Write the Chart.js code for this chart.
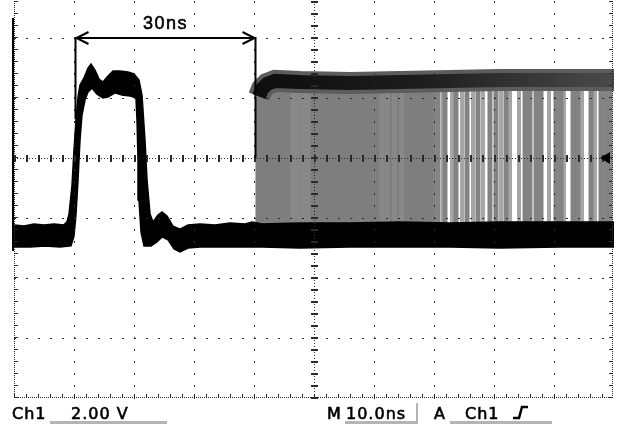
<!DOCTYPE html>
<html>
<head>
<meta charset="utf-8">
<script src="https://cdn.jsdelivr.net/npm/chart.js@4.4.1/dist/chart.umd.min.js"></script>
<style>
html, body { margin: 0; padding: 0; background: #fff; }
#scope { display: block; }
</style>
</head>
<body>
<canvas id="scope" width="617" height="424"></canvas>
<script>
// scope capture: 10 ns/div, 2 V/div. time in ns, level in V (0 V = centre line)

// thick persistent trace (the pulse + ringing + baseline), top edge then bottom edge
const pulseUpper = [
  [0, -2.23], [1.67, -2.27], [3.33, -2.2], [5, -2.23], [6.67, -2.2], [8.33, -2.23],
  [8.83, -2.13], [9.17, -1.87], [9.67, -0.9], [10, 0.27], [10.33, 1.27], [10.67, 2.03],
  [11, 2.43], [11.67, 2.67], [12.33, 3.0], [12.83, 3.13], [13.5, 2.93], [14.17, 2.63],
  [14.83, 2.53], [15.67, 2.73], [16.5, 2.9], [17.67, 2.9], [19, 2.87], [20, 2.8],
  [20.83, 2.6], [21.33, 2.1], [21.83, 0.6], [22.17, -0.73], [22.67, -1.87], [23.17, -2.13],
  [24, -1.9], [24.67, -1.8], [25.5, -1.93], [26.5, -2.27], [27.67, -2.37], [29, -2.23],
  [31, -2.2], [33.5, -2.23], [36, -2.17], [38.5, -2.2], [39.67, -2.13], [41.33, -2.2],
  [47.67, -2.17], [56, -2.17], [64.33, -2.13], [72.67, -2.17], [81, -2.13], [91, -2.13], [100, -2.13]
];
const pulseLower = [
  [100, -2.97], [91, -2.97], [81, -3.0], [72.67, -2.97], [64.33, -2.97], [56, -2.97],
  [47.67, -3.0], [41.33, -2.97], [36, -2.97], [31, -2.97], [29, -3.0], [27.67, -3.13],
  [26.67, -3.03], [25.67, -2.73], [24.67, -2.63], [23.83, -2.8], [22.83, -2.93], [21.67, -2.93],
  [21.17, -2.47], [20.83, -1.4], [20.67, -0.07], [20.5, 1.27], [20.33, 2.0], [19.33, 2.07],
  [18, 2.1], [16.83, 2.17], [15.67, 2.03], [14.83, 2.0], [13.83, 2.13], [13, 2.33],
  [12.33, 2.2], [11.83, 1.93], [11.33, 1.43], [11, 0.6], [10.67, -0.73], [10.33, -1.9],
  [10, -2.6], [9.5, -2.93], [7.67, -2.97], [5.17, -2.93], [2.67, -2.97], [0, -2.97]
];

// dense persistence area after the second edge (solid grey part)
const denseArea = [
  [40.33, -2.6], [40.33, 1.9], [40.67, 2.2], [41.17, 2.4], [42, 2.6],
  [47.67, 2.6], [70.17, 2.6], [70.17, -2.6]
];
// upper level band of the late edges
const highBand = [
  [40.83, 2.05], [41.33, 2.3], [42.17, 2.47], [43.5, 2.57], [47.67, 2.53],
  [56, 2.5], [64.33, 2.53], [72.67, 2.57], [81, 2.6], [91, 2.6], [100, 2.6]
];
const edgeLow = -2.6;
const edgeHigh = 2.6;
// single late edges, sparse part (ns)
const edgesMid = [70.67, 71.83, 73.67, 75.5, 77.33, 79.33, 80.33, 82.0, 85.17, 86.0, 87.0,
  87.83, 90.33, 91.17, 93.17, 94.0, 96.17, 97.83, 98.67, 99.33];
const edgesLight = [71.5, 73.0, 74.67, 76.5, 78.17, 81.17, 82.67, 84.17, 89.17, 91.67, 94.67, 96.83];
const edgesShade = [46.5, 47.3, 48.2, 49.0, 61.3, 62.2, 63.4, 64.6];

// cursors and readout
const cursorA = 10.17;
const cursorB = 40.17;
const cursorLevel = 4;
const cursorLabel = "30ns";
const triggerLevel = 0;
const readoutCh = "Ch1";
const readoutVolts = "2.00 V";
const readoutTime = "10.0ns";
const readoutTrig = "Ch1";

const toPoints = arr => arr.map(p => ({ x: p[0], y: p[1] }));
const toEdges = arr => {
  const pts = [];
  arr.forEach(t => {
    pts.push({ x: t, y: edgeLow }, { x: t, y: edgeHigh }, { x: t, y: null });
  });
  return pts;
};

const boldText = (ctx, s, x, y) => {
  ctx.fillText(s, x, y);
  ctx.strokeText(s, x, y);
};

const scopeDraw = {
  id: "scopeDraw",
  afterDraw(chart) {
    const ctx = chart.ctx;
    const xs = chart.scales.x;
    const ys = chart.scales.y;
    const top = chart.chartArea.top;
    const left = Math.round(xs.getPixelForValue(0));
    const right = Math.round(xs.getPixelForValue(100)) - 2;
    const bottom = Math.round(ys.getPixelForValue(-8)) - 1;
    const minor = xs.getPixelForValue(2) - xs.getPixelForValue(0);
    const xc = Math.round(xs.getPixelForValue(50));
    const yc = Math.round(ys.getPixelForValue(0));
    ctx.save();

    // graticule dots
    ctx.fillStyle = "#2a2a2a";
    for (let t = 10; t < 100; t += 10) {
      if (t === 50) continue;
      const x = Math.round(xs.getPixelForValue(t));
      for (let y = bottom; y >= top; y -= minor) ctx.fillRect(x, Math.round(y), 1, 2);
    }
    for (let v = -6; v <= 4; v += 2) {
      if (v === 0) continue;
      const y = Math.round(ys.getPixelForValue(v));
      for (let x = left; x <= right; x += minor) ctx.fillRect(Math.round(x), y, 2, 1);
    }

    // centre lines with minor ticks
    for (let x = left; x <= right; x += 3) ctx.fillRect(x, yc, 1, 1);
    for (let y = bottom; y >= top; y -= 3) ctx.fillRect(xc, y, 1, 1);
    for (let x = left; x <= right; x += minor) ctx.fillRect(Math.round(x), yc - 3, 2, 7);
    for (let y = bottom; y >= top; y -= minor) ctx.fillRect(xc - 3, Math.round(y), 7, 2);

    // border lines with ticks
    for (let x = left; x <= right; x += 2) ctx.fillRect(x, bottom, 1, 1);
    for (let y = bottom; y >= top; y -= 2) { ctx.fillRect(left, y, 1, 1); ctx.fillRect(right, y, 1, 1); }
    for (let x = left; x <= right; x += minor) ctx.fillRect(Math.round(x), bottom - 3, 1, 4);
    for (let y = bottom; y >= top; y -= minor) {
      ctx.fillRect(left, Math.round(y), 4, 1);
      ctx.fillRect(right - 3, Math.round(y), 4, 1);
    }
    ctx.fillStyle = "#000";
    ctx.fillRect(left - 2, 18, 2, ys.getPixelForValue(-3.1) - 18);

    // trigger level marker
    ctx.beginPath();
    ctx.moveTo(right - 12, yc);
    ctx.lineTo(right - 2, yc - 6);
    ctx.lineTo(right - 2, yc + 6);
    ctx.closePath();
    ctx.fill();

    // cursors
    const xa = Math.round(xs.getPixelForValue(cursorA)) + 0.5;
    const xb = Math.round(xs.getPixelForValue(cursorB)) + 0.5;
    const yl = Math.round(ys.getPixelForValue(cursorLevel));
    ctx.strokeStyle = "#000";
    ctx.lineWidth = 2;
    ctx.beginPath();
    ctx.moveTo(xa, yl); ctx.lineTo(xb, yl);
    ctx.moveTo(xa, yl - 1); ctx.lineTo(xa, ys.getPixelForValue(1.3));
    ctx.moveTo(xb, yl - 1); ctx.lineTo(xb, ys.getPixelForValue(triggerLevel));
    ctx.moveTo(xa + 13, yl - 6); ctx.lineTo(xa + 1, yl); ctx.lineTo(xa + 13, yl + 6);
    ctx.moveTo(xb - 13, yl - 6); ctx.lineTo(xb - 1, yl); ctx.lineTo(xb - 13, yl + 6);
    ctx.stroke();

    ctx.fillStyle = "#000";
    ctx.lineWidth = 0.6;
    ctx.font = "18px 'Liberation Sans'";
    ctx.letterSpacing = "1.5px";
    ctx.textBaseline = "alphabetic";
    boldText(ctx, cursorLabel, 143, 29);

    // readout
    ctx.font = "16px 'DejaVu Sans'";
    ctx.letterSpacing = "1px";
    boldText(ctx, readoutCh, 12, 419);
    boldText(ctx, readoutVolts, 71, 419);
    boldText(ctx, "M", 327, 419);
    boldText(ctx, readoutTime, 346, 419);
    boldText(ctx, "A", 434, 419);
    boldText(ctx, readoutTrig, 465, 419);
    ctx.fillStyle = "#b4b4b4";
    ctx.fillRect(50, 421, 117, 3);
    ctx.fillRect(345, 421, 73, 3);
    ctx.fillRect(416, 403, 2, 20);
    ctx.fillRect(450, 421, 102, 3);
    ctx.strokeStyle = "#000";
    ctx.lineWidth = 2.5;
    ctx.beginPath();
    ctx.moveTo(513, 418); ctx.lineTo(519, 418); ctx.lineTo(522, 407); ctx.lineTo(528, 407);
    ctx.stroke();
    ctx.restore();
  }
};

const bandColor = ctx => {
  const chart = ctx.chart;
  if (!chart.chartArea) return "#222";
  const xs = chart.scales.x;
  const g = chart.ctx.createLinearGradient(xs.getPixelForValue(40), 0, xs.getPixelForValue(100), 0);
  g.addColorStop(0, "#0e0e0e");
  g.addColorStop(0.45, "#1c1c1c");
  g.addColorStop(1, "#4a4a4a");
  return g;
};

new Chart(document.getElementById("scope"), {
  type: "line",
  data: {
    datasets: [
      {
        label: "pulse",
        data: toPoints(pulseUpper.concat(pulseLower)),
        borderColor: "#000",
        backgroundColor: "#000",
        borderWidth: 1.5,
        fill: "shape",
        order: 1,
      },
      {
        label: "band core",
        data: toPoints(highBand),
        borderColor: bandColor,
        borderWidth: 14,
        fill: false,
        order: 2,
      },
      {
        label: "band halo",
        data: toPoints(highBand),
        borderColor: "#5c5c5c",
        borderWidth: 22,
        fill: false,
        order: 3,
      },
      {
        label: "edges",
        data: toEdges(edgesMid),
        borderColor: "#838383",
        borderWidth: 5,
        spanGaps: false,
        fill: false,
        order: 4,
      },
      {
        label: "edges light",
        data: toEdges(edgesLight),
        borderColor: "#a6a6a6",
        borderWidth: 4,
        spanGaps: false,
        fill: false,
        order: 4,
      },
      {
        label: "edges shade",
        data: toEdges(edgesShade),
        borderColor: "#888888",
        borderWidth: 5,
        spanGaps: false,
        fill: false,
        order: 4,
      },
      {
        label: "dense",
        data: toPoints(denseArea),
        borderColor: "#7e7e7e",
        backgroundColor: "#7e7e7e",
        borderWidth: 1,
        fill: "shape",
        order: 5,
      },
    ],
  },
  options: {
    responsive: false,
    animation: false,
    devicePixelRatio: 1,
    layout: { padding: { left: 14, right: 3, top: 0, bottom: 26 } },
    elements: { point: { radius: 0 }, line: { tension: 0 } },
    plugins: { legend: { display: false }, tooltip: { enabled: false } },
    scales: {
      x: { type: "linear", min: 0, max: 100, display: false },
      y: { type: "linear", min: -8, max: 5.2667, display: false },
    },
  },
  plugins: [scopeDraw],
});
</script>
</body>
</html>
